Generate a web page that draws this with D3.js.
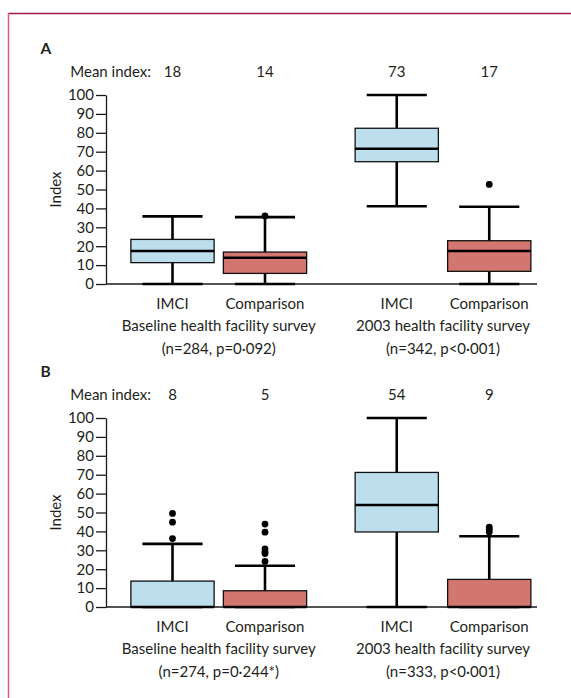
<!DOCTYPE html>
<html><head><meta charset="utf-8">
<script src="https://cdn.jsdelivr.net/npm/d3@7"></script>
<style>
body{margin:0;background:#fff}
svg text{font-family:Lato,"Open Sans",sans-serif;fill:#231f20}
</style>
</head><body>
<svg id="chart" width="571" height="698"></svg>
<script>
// ---------- data ----------
const groups = ["Baseline health facility survey", "2003 health facility survey"];
const arms = ["IMCI", "Comparison"];
const yTicks = [0, 10, 20, 30, 40, 50, 60, 70, 80, 90, 100];
const panelLabels = ["A", "B"];

// order: Baseline IMCI, Baseline Comparison, 2003 IMCI, 2003 Comparison
const notesA = ["(n=284, p=0·092)", "(n=342, p<0·001)"];
const meanA = [18, 14, 73, 17];
const lowA  = [0, 0, 41.1, 0];
const q1A   = [11.3, 5.6, 64.7, 6.7];
const medA  = [17.5, 13.9, 71.6, 17.5];
const q3A   = [23.6, 16.9, 82.4, 22.9];
const highA = [35.8, 35.4, 100, 40.9];
const outA  = [[], [36], [], [52.7]];

const notesB = ["(n=274, p=0·244*)", "(n=333, p<0·001)"];
const meanB = [8, 5, 54, 9];
const lowB  = [0, 0, 0, 0];
const q1B   = [0, 0, 39.7, 0];
const medB  = [0, 0, 54, 0];
const q3B   = [13.7, 8.6, 71.2, 14.6];
const highB = [33.4, 21.8, 100, 37.4];
const outB  = [[36.2, 44.9, 49.5], [24.1, 28.3, 29.1, 30.7, 39.6, 43.9], [], [39.7, 41, 42.3]];

// ---------- drawing ----------
const svg = d3.select("#chart");
const blue = "#bcdeed", red = "#d47670", ink = "#1a1a1a";

// frame
svg.append("line").attr("x1", 8).attr("x2", 571).attr("y1", 13.5).attr("y2", 13.5)
  .attr("stroke", "#a3164c").attr("stroke-width", 1.5);
svg.append("line").attr("x1", 8.5).attr("x2", 8.5).attr("y1", 13).attr("y2", 698)
  .attr("stroke", "#d95884").attr("stroke-width", 1.5);

const groupX = d3.scalePoint().domain(groups).range([218.75, 443]);
const armX = d3.scaleBand().domain(arms).range([-92.5, 92.5]);
const cats = [];
groups.forEach(g => arms.forEach(a => cats.push({g, a})));
const cx = i => groupX(cats[i].g) + armX(cats[i].a) + armX.bandwidth() / 2;
const fills = cats.map(c => c.a === "IMCI" ? blue : red);

function drawPanel(p) {
  const g = svg.append("g");
  const y = d3.scaleLinear().domain([0, 100]).range([p.y0, p.y0 - 189]);

  g.append("text").text(p.label).attr("x", 40.5).attr("y", y(100) - 41)
    .style("font-weight", "bold").style("font-size", "15.5px");
  g.append("text").text("Mean index:").attr("x", 151).attr("y", y(100) - 18)
    .attr("text-anchor", "end").style("font-size", "15px");
  g.selectAll(".mean").data(p.mean).join("text")
    .text(d => d).attr("x", (d, i) => cx(i)).attr("y", y(100) - 18)
    .attr("text-anchor", "middle").style("font-size", "15px");

  // y axis
  const ax = g.append("g").attr("transform", "translate(106,0)")
    .call(d3.axisLeft(y).tickValues(yTicks).tickSize(10).tickSizeOuter(0).tickPadding(2));
  ax.select(".domain").attr("stroke", ink).attr("stroke-width", 1.3);
  ax.selectAll(".tick line").attr("stroke", ink).attr("stroke-width", 1.3);
  ax.selectAll(".tick text").style("font-size", "15px").attr("fill", "#231f20")
    .style("font-family", "Lato, sans-serif");
  g.append("text").text("Index")
    .attr("transform", `translate(61,${(y(0) + y(100)) / 2}) rotate(-90)`)
    .attr("text-anchor", "middle").style("font-size", "15px");

  // x baseline
  g.append("line").attr("x1", 106).attr("x2", 537).attr("y1", y(0)).attr("y2", y(0))
    .attr("stroke", ink).attr("stroke-width", 1.3);

  const bw = armX.bandwidth() * 0.9, cw = armX.bandwidth() * 0.65;
  p.q1.forEach((_, i) => {
    const x = cx(i);
    const b = g.append("g");
    b.append("line").attr("x1", x).attr("x2", x).attr("y1", y(p.high[i])).attr("y2", y(p.low[i]))
      .attr("stroke", "#000").attr("stroke-width", 2.6);
    [p.high[i], p.low[i]].forEach(v => b.append("line")
      .attr("x1", x - cw / 2).attr("x2", x + cw / 2).attr("y1", y(v)).attr("y2", y(v))
      .attr("stroke", "#000").attr("stroke-width", 2.6));
    b.append("rect").attr("x", x - bw / 2).attr("width", bw)
      .attr("y", y(p.q3[i])).attr("height", y(p.q1[i]) - y(p.q3[i]))
      .attr("fill", fills[i]).attr("stroke", "#111").attr("stroke-width", 1.3);
    b.append("line").attr("x1", x - bw / 2).attr("x2", x + bw / 2)
      .attr("y1", y(p.med[i])).attr("y2", y(p.med[i]))
      .attr("stroke", "#000").attr("stroke-width", 2.4);
    b.selectAll("circle").data(p.out[i]).join("circle")
      .attr("cx", x).attr("cy", d => y(d)).attr("r", 3.4).attr("fill", "#000");
  });

  // category labels
  g.selectAll(".arm").data(cats).join("text").text(d => d.a)
    .attr("x", (d, i) => cx(i)).attr("y", y(0) + 25)
    .attr("text-anchor", "middle").style("font-size", "15px");
  g.selectAll(".grp").data(groups).join("text").text(d => d)
    .attr("x", d => groupX(d)).attr("y", y(0) + 47)
    .attr("text-anchor", "middle").style("font-size", "15px");
  g.selectAll(".note").data(p.notes).join("text").text(d => d)
    .attr("x", (d, i) => groupX(groups[i])).attr("y", y(0) + 70)
    .attr("text-anchor", "middle").style("font-size", "15px");
}

drawPanel({label: panelLabels[0], y0: 284, mean: meanA, low: lowA, q1: q1A, med: medA,
  q3: q3A, high: highA, out: outA, notes: notesA});
drawPanel({label: panelLabels[1], y0: 607, mean: meanB, low: lowB, q1: q1B, med: medB,
  q3: q3B, high: highB, out: outB, notes: notesB});
</script>
</body></html>
